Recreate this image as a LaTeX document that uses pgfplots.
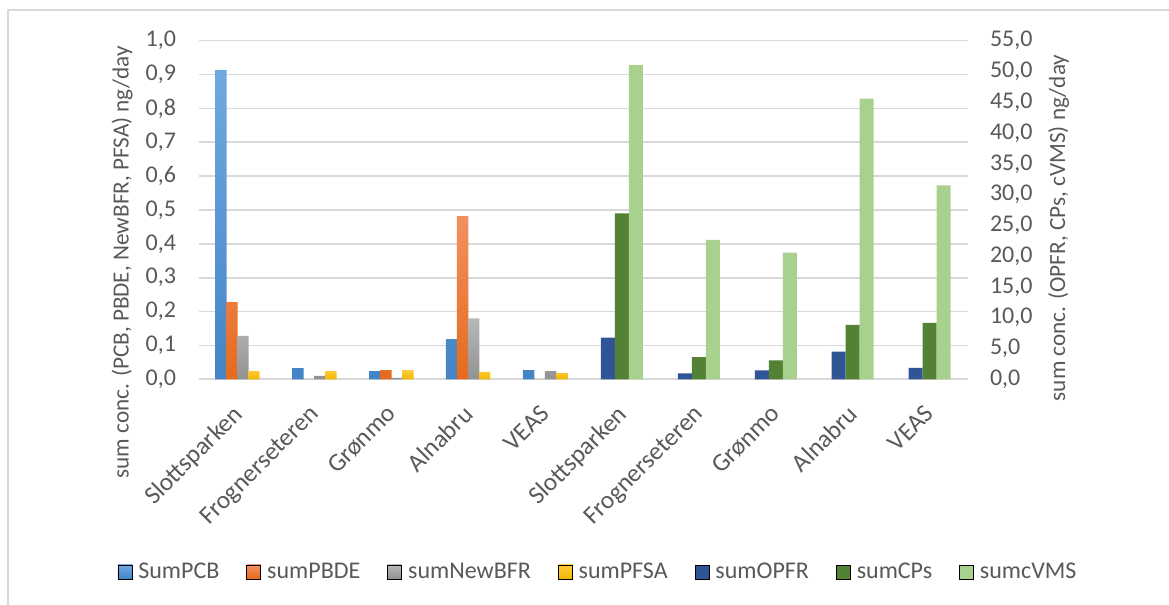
\documentclass[border=0pt]{standalone}
\usepackage{pgfplots}
\pgfplotsset{compat=1.18}
\usepackage{pgfplotstable}
\usepackage{fontspec}
\setmainfont{Carlito}

\definecolor{pcbT}{HTML}{70A9DF}
\definecolor{pcbB}{HTML}{4484C6}
\definecolor{pbdeT}{HTML}{F29060}
\definecolor{pbdeB}{HTML}{E66A1C}
\definecolor{bfrT}{HTML}{B8B8B8}
\definecolor{bfrB}{HTML}{929292}
\definecolor{pfsaT}{HTML}{FFCB3C}
\definecolor{pfsaB}{HTML}{F2B700}
\definecolor{opfr}{HTML}{2F5597}
\definecolor{cps}{HTML}{538135}
\definecolor{cvms}{HTML}{A9D18E}
\definecolor{gridc}{HTML}{D9D9D9}
\definecolor{txt}{HTML}{595959}

% primary axis: PCB, PBDE, NewBFR, PFSA
\pgfplotstableread{
x PCB PBDE NewBFR PFSA
1 0.913 0.228 0.128 0.024
2 0.033 0.000 0.010 0.024
3 0.024 0.027 0.004 0.027
4 0.119 0.482 0.180 0.022
5 0.027 0.000 0.024 0.018
}\lefttab

% secondary axis: OPFR, CPs, cVMS
\pgfplotstableread{
x OPFR CPs cVMS
6 6.76 26.96 51.05
7 0.97 3.62 22.63
8 1.46 3.09 20.57
9 4.48 8.82 45.58
10 1.84 9.15 31.50
}\righttab

\pgfplotsset{
  common/.style={
    at={(99.5pt,112.85pt)}, anchor=south west,
    scale only axis, width=384.5pt, height=169.3pt,
    xmin=0.5, xmax=10.5, ymin=0,
    axis line style={draw=none},
    major tick length=0pt,
    tick label style={text=txt, font=\fontsize{12}{14}\selectfont},
    label style={text=txt, font=\fontsize{11.6}{14}\selectfont},
    /pgf/number format/.cd, fixed, fixed zerofill, precision=1, use comma, assume math mode=true,
  },
}

\begin{document}
\begin{tikzpicture}
\useasboundingbox (0,0) rectangle (584.5pt,302.5pt);

\begin{axis}[
    common,
    ymax=1, ytick distance=0.1,
    xtick={1,...,10},
    xticklabels={Slottsparken,Frognerseteren,Grønmo,Alnabru,VEAS,Slottsparken,Frognerseteren,Grønmo,Alnabru,VEAS},
    xticklabel style={xshift=-3pt, yshift=-10.5pt, rotate=45, anchor=north east, inner sep=1pt,
      font=\fontsize{12.6}{14}\selectfont},
    yticklabel style={xshift=-8pt},
    ymajorgrids, grid style={gridc, line width=0.8pt},
    ylabel={sum conc. (PCB, PBDE, NewBFR, PFSA) ng/day},
    ylabel style={at={(axis description cs:-0.1,0.346)}, anchor=center},
]
\addplot[ybar, bar width=5.75pt, bar shift=-8.25pt, draw=none, top color=pcbT, bottom color=pcbB] table[x=x, y=PCB] {\lefttab};
\addplot[ybar, bar width=5.75pt, bar shift=-2.75pt, draw=none, top color=pbdeT, bottom color=pbdeB] table[x=x, y=PBDE] {\lefttab};
\addplot[ybar, bar width=5.75pt, bar shift=2.75pt, draw=none, top color=bfrT, bottom color=bfrB] table[x=x, y=NewBFR] {\lefttab};
\addplot[ybar, bar width=5.75pt, bar shift=8.25pt, draw=none, top color=pfsaT, bottom color=pfsaB] table[x=x, y=PFSA] {\lefttab};
\end{axis}

\begin{axis}[
    common,
    ymax=55, ytick distance=5,
    hide x axis,
    yticklabel pos=right,
    yticklabel style={xshift=7.5pt},
    ylabel={sum conc. (OPFR, CPs, cVMS) ng/day},
    ylabel style={at={(axis description cs:1.118,0.447)}, anchor=center, rotate=0},
    legend image code/.code={\fill[#1] (0pt,-3.5pt) rectangle (7pt,3.5pt);},
    legend style={at={(axis description cs:0.5195,-0.569)}, anchor=center,
      draw=none, legend columns=-1, text=txt, font=\fontsize{12}{14}\selectfont,
      nodes={inner xsep=1.5pt},
      /tikz/every odd column/.append style={column sep=1.5pt},
      /tikz/every even column/.append style={column sep=12pt}},
]
\addplot[ybar, bar width=7pt, bar shift=-7pt, draw=none, fill=opfr, forget plot] table[x=x, y=OPFR] {\righttab};
\addplot[ybar, bar width=7pt, bar shift=0pt, draw=none, fill=cps, forget plot] table[x=x, y=CPs] {\righttab};
\addplot[ybar, bar width=7pt, bar shift=7pt, draw=none, fill=cvms, forget plot] table[x=x, y=cVMS] {\righttab};
\addlegendimage{top color=pcbT, bottom color=pcbB}
\addlegendentry{SumPCB}
\addlegendimage{top color=pbdeT, bottom color=pbdeB}
\addlegendentry{sumPBDE}
\addlegendimage{top color=bfrT, bottom color=bfrB}
\addlegendentry{sumNewBFR}
\addlegendimage{top color=pfsaT, bottom color=pfsaB}
\addlegendentry{sumPFSA}
\addlegendimage{fill=opfr}
\addlegendentry{sumOPFR}
\addlegendimage{fill=cps}
\addlegendentry{sumCPs}
\addlegendimage{fill=cvms}
\addlegendentry{sumcVMS}
\end{axis}

% chart frame (left and top edges only are visible)
\draw[gridc, line width=0.75pt] (4pt,0pt) -- (4pt,297.5pt) -- (584.5pt,297.5pt);
\end{tikzpicture}
\end{document}
